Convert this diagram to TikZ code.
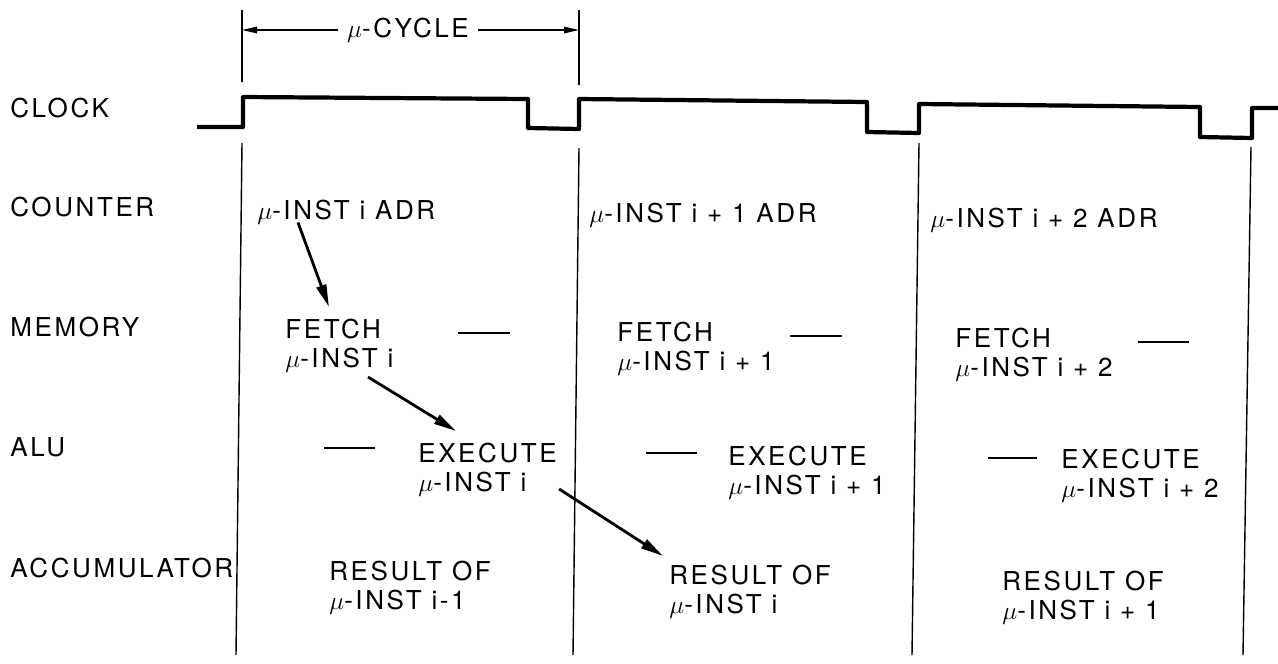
\documentclass[tikz,border=0pt]{standalone}
\usepackage{fontspec}
\setmainfont{TeX Gyre Heros}[LetterSpace=10]
\usetikzlibrary{arrows.meta,calc}

\tikzset{
  lbl/.style={anchor=west,inner sep=0pt,font=\fontsize{14.8}{16}\selectfont},
  txt/.style={lbl,align=left,font=\fontsize{14.8}{16.5}\selectfont},
  clk/.style={line width=2.4pt,line join=round},
  bound/.style={line width=0.8pt},
  flow/.style={line width=1.6pt,-{Triangle[length=4.5mm,width=2mm]}},
  dimline/.style={line width=0.8pt,-{Triangle[length=3mm,width=1.3mm]}},
  idle/.style={line width=1.1pt},
}
\newcommand{\minst}{$\mu$-INST}

\begin{document}
\begin{tikzpicture}[x=0.02cm,y=-0.02cm]
\useasboundingbox (0,0) rectangle (1278,663);
% row names
\node[lbl] (clock) at (10,108) {CLOCK};
\node[lbl] (counter) at (10,207) {COUNTER};
\node[lbl] (memory) at (10,327) {MEMORY};
\node[lbl] (alu) at (10,447) {ALU};
\node[lbl] (accu) at (10,568) {ACCUMULATOR};
% clock signal
\draw[clk] (197,127) -- (243,127) -- (243,97) -- (528,99) -- (528,128) -- (579,129)
  -- (579,99) -- (867,102) -- (867,132) -- (919,133) -- (919,104) -- (1200,107)
  -- (1200,137) -- (1252,138) -- (1252,108) -- (1278,108);
% cycle boundaries
\coordinate (t1) at (242,10);  \coordinate (m1top) at (242,82);
\coordinate (t2) at (579,10);  \coordinate (m2top) at (579,85);
\coordinate (u1) at (242,143); \coordinate (d1) at (236,655);
\coordinate (u2) at (579,148); \coordinate (d2) at (573,655);
\coordinate (u3) at (919,143); \coordinate (d3) at (912,655);
\coordinate (u4) at (1251,147); \coordinate (d4) at (1243,655);
\draw[bound] (t1) -- (m1top) (t2) -- (m2top);
\draw[bound] (u1) -- (d1) (u2) -- (d2) (u3) -- (d3) (u4) -- (d4);
\node[lbl,anchor=center] (cyc) at (408,30) {$\mu$-CYCLE};
\draw[dimline] ([xshift=-5pt]cyc.west) -- (t1 |- cyc);
\draw[dimline] ([xshift=5pt]cyc.east) -- (t2 |- cyc);
% counter
\node[lbl] (c1) at (257,212) {\minst{} i ADR};
\node[lbl] (c2) at (589,215) {\minst{} i + 1 ADR};
\node[lbl] (c3) at (930,220) {\minst{} i + 2 ADR};
% memory
\node[txt] (f1) at (285,346) {FETCH\\\minst{} i};
\node[txt] (f2) at (617,349) {FETCH\\\minst{} i + 1};
\node[txt] (f3) at (955,355) {FETCH\\\minst{} i + 2};
\draw[idle] (458,333) -- (510,333);
\draw[idle] (790,336) -- (842,336);
\draw[idle] (1138,342) -- (1189,342);
% alu
\node[txt] (e1) at (418,470) {EXECUTE\\\minst{} i};
\node[txt] (e2) at (728,473) {EXECUTE\\\minst{} i + 1};
\node[txt] (e3) at (1061,476) {EXECUTE\\\minst{} i + 2};
\draw[idle] (324,448) -- (375,448);
\draw[idle] (646,453) -- (697,453);
\draw[idle] (988,458) -- (1037,458);
% accumulator
\node[txt] (r1) at (329,588) {RESULT OF\\\minst{} i-1};
\node[txt] (r2) at (669,592) {RESULT OF\\\minst{} i};
\node[txt] (r3) at (1002,598) {RESULT OF\\\minst{} i + 1};
% data flow
\draw[flow] ($(c1.south west)+(41,-2)$) -- ($(f1.north west)+(44,-12)$);
\draw[flow] ($(f1.south west)+(83,4)$) -- ($(e1.north west)+(38,-12)$);
\draw[flow] ($(e1.south east)+(2,-8)$) -- ($(r2.north west)+(-6,-9)$);
\end{tikzpicture}
\end{document}
